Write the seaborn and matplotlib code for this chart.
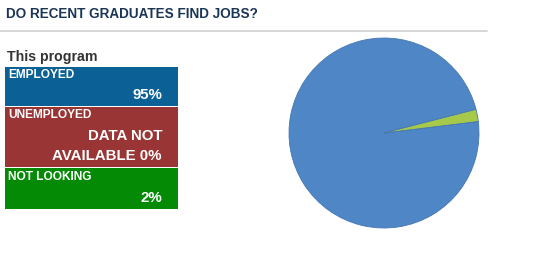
import matplotlib
matplotlib.use('Agg')
import matplotlib.pyplot as plt
import seaborn as sns
from matplotlib.patches import Rectangle

sns.set_theme(style='white')
plt.rcParams['font.family'] = ['Liberation Sans', 'DejaVu Sans']

title = "DO RECENT GRADUATES FIND JOBS?"
subtitle = "This program"
categories = ["EMPLOYED", "UNEMPLOYED", "NOT LOOKING"]
value_labels = ["95%", "DATA NOT\nAVAILABLE 0%", "2%"]
values = [95, 0, 2]

box_colors = ["#0b6196", "#9a3535", "#048a04"]
pie_colors = ["#4f86c5", "#9a3535", "#a6c94c"]

fig = plt.figure(figsize=(5.37, 2.64), dpi=100)
fig.patch.set_facecolor('white')
bg = fig.add_axes([0, 0, 1, 1])
bg.set_xlim(0, 537)
bg.set_ylim(264, 0)
bg.axis('off')

bg.text(6, 13.5, title, fontsize=9.75, fontweight='bold', color='#1b3556',
        va='center', ha='left')
bg.plot([0, 487], [31, 31], color='#cfcfcf', lw=1.2)
bg.text(7, 57.5, subtitle, fontsize=10.2, fontweight='bold', color='#333333',
        va='center', ha='left')

rows = [(67, 106), (107, 167), (168, 209)]
for (top, bot), cat, lab, col in zip(rows, categories, value_labels, box_colors):
    bg.add_patch(Rectangle((5, top), 173, bot - top, facecolor=col, edgecolor='none'))
    bg.text(8, top + 8.5, cat, fontsize=8.6, fontweight='bold', color='white',
            va='center', ha='left')
    lines = lab.split("\n")
    n = len(lines)
    for i, ln in enumerate(lines):
        y = bot - 11 - (n - 1 - i) * 19.5
        bg.text(162, y, ln, fontsize=10.8, fontweight='bold', color='white',
                va='center', ha='right')

cx, cy, r = 384, 133, 95
pax = fig.add_axes([(cx - r) / 537, (264 - cy - r) / 264, 2 * r / 537, 2 * r / 264])
pax.pie(values, colors=pie_colors, startangle=14.4, counterclock=True,
        wedgeprops=dict(edgecolor='#4577b3', linewidth=0.6))
pax.set_xlim(-1.0, 1.0)
pax.set_ylim(-1.0, 1.0)
pax.set_aspect('auto')
pax.axis('off')

fig.savefig('out.png', dpi=100, facecolor='white')
